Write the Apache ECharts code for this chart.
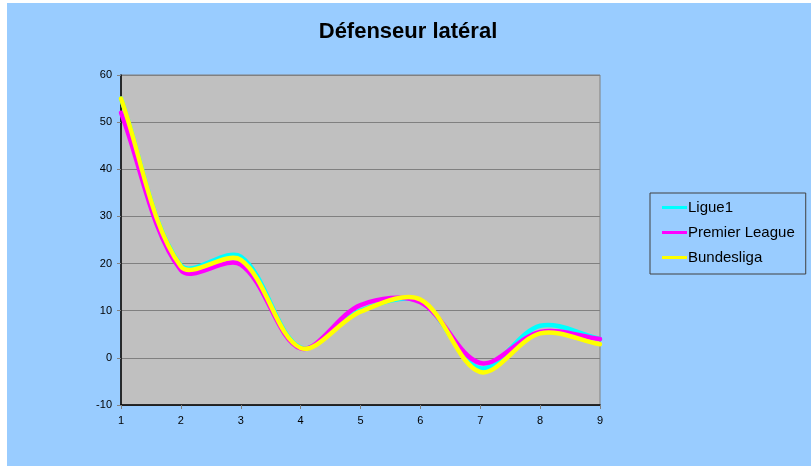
<!DOCTYPE html>
<html>
<head>
<meta charset="utf-8">
<script src="https://cdn.jsdelivr.net/npm/echarts@6/dist/echarts.min.js"></script>
<style>
  html, body { margin: 0; padding: 0; background: #ffffff; }
  #chart { position: absolute; left: 7px; top: 3px; width: 804px; height: 463px; }
</style>
</head>
<body>
<div id="chart"></div>
<script>
// Match positions along the season (x axis)
const categories = ['1', '2', '3', '4', '5', '6', '7', '8', '9'];

// Values per league
const ligue1 = [55, 19.6, 21.5, 2.2, 10.0, 12.0, -2.2, 6.8, 4.0];
const premierLeague = [52, 18.6, 19.8, 2.0, 11.2, 11.8, -1.1, 5.5, 4.0];
const bundesliga = [55, 19.4, 20.8, 2.1, 9.8, 12.4, -3.0, 5.2, 2.9];

const seriesNames = ['Ligue1', 'Premier League', 'Bundesliga'];
const seriesColors = ['#00FFFF', '#FF00FF', '#FFFF00'];
const seriesData = [ligue1, premierLeague, bundesliga];

const font = 'Liberation Sans, Arial, sans-serif';
const TENSION = 1 / 3;

// Smooth Bezier path through the projected points; control arms are split
// in proportion to the lengths of the neighbouring segments.
function splinePathData(points) {
  const n = points.length;
  const dist = (a, b) => Math.hypot(b[0] - a[0], b[1] - a[1]);
  const ctrl = points.map((p, i) => {
    const prev = points[Math.max(i - 1, 0)];
    const next = points[Math.min(i + 1, n - 1)];
    const d0 = dist(prev, p);
    const d1 = dist(p, next);
    const sum = d0 + d1 || 1;
    const vx = next[0] - prev[0];
    const vy = next[1] - prev[1];
    const fa = TENSION * d0 / sum;
    const fb = TENSION * d1 / sum;
    return {
      before: [p[0] - fa * vx, p[1] - fa * vy],
      after: [p[0] + fb * vx, p[1] + fb * vy]
    };
  });
  let d = 'M' + points[0][0] + ',' + points[0][1];
  for (let i = 0; i < n - 1; i++) {
    const c1 = ctrl[i].after;
    const c2 = ctrl[i + 1].before;
    const p2 = points[i + 1];
    d += ' C' + c1[0] + ',' + c1[1] + ' ' + c2[0] + ',' + c2[1] + ' ' + p2[0] + ',' + p2[1];
  }
  return d;
}

function makeRenderItem(values, color) {
  return function (params, api) {
    if (params.dataIndex !== 0) return null;
    const points = values.map((v, i) => api.coord([i, v]));
    return {
      type: 'path',
      shape: { pathData: splinePathData(points) },
      style: { fill: 'none', stroke: color, lineWidth: 4.5, lineJoin: 'round', lineCap: 'round' }
    };
  };
}

const chart = echarts.init(document.getElementById('chart'), null, { renderer: 'canvas' });

chart.setOption({
  backgroundColor: '#99CCFF',
  animation: false,
  title: {
    text: 'Défenseur latéral',
    left: 396,
    top: 13,
    textAlign: 'center',
    textStyle: { fontFamily: font, fontSize: 22, fontWeight: 'bold', color: '#000000' }
  },
  legend: {
    orient: 'vertical',
    left: 643,
    top: 190,
    padding: [7, 11, 9, 12],
    itemGap: 10,
    itemWidth: 25,
    itemHeight: 3,
    icon: 'rect',
    borderColor: '#404040',
    borderWidth: 1,
    backgroundColor: '#99CCFF',
    textStyle: { fontFamily: font, fontSize: 15, color: '#000000', padding: [0, 0, 0, -4] },
    data: seriesNames
  },
  grid: {
    left: 114,
    top: 72,
    width: 479,
    height: 330,
    show: true,
    backgroundColor: '#C0C0C0',
    borderColor: '#808080',
    borderWidth: 1
  },
  xAxis: {
    type: 'category',
    data: categories,
    boundaryGap: false,
    axisLine: { show: true, onZero: false, lineStyle: { color: '#000000', width: 1.5 } },
    axisTick: { show: true, length: 4, lineStyle: { color: '#808080' } },
    axisLabel: { fontFamily: font, fontSize: 11, color: '#000000', margin: 10 },
    splitLine: { show: false }
  },
  yAxis: {
    type: 'value',
    min: -10,
    max: 60,
    interval: 10,
    axisLine: { show: true, lineStyle: { color: '#000000', width: 1.5 } },
    axisTick: { show: true, length: 4, lineStyle: { color: '#808080' } },
    axisLabel: { fontFamily: font, fontSize: 11, color: '#000000', margin: 9 },
    splitLine: { show: true, lineStyle: { color: '#808080', width: 1 } }
  },
  series: seriesData.map((values, k) => ({
    name: seriesNames[k],
    type: 'custom',
    coordinateSystem: 'cartesian2d',
    data: values.map((v, i) => [i, v]),
    encode: { x: 0, y: 1 },
    itemStyle: { color: seriesColors[k] },
    renderItem: makeRenderItem(values, seriesColors[k])
  }))
});
</script>
</body>
</html>
